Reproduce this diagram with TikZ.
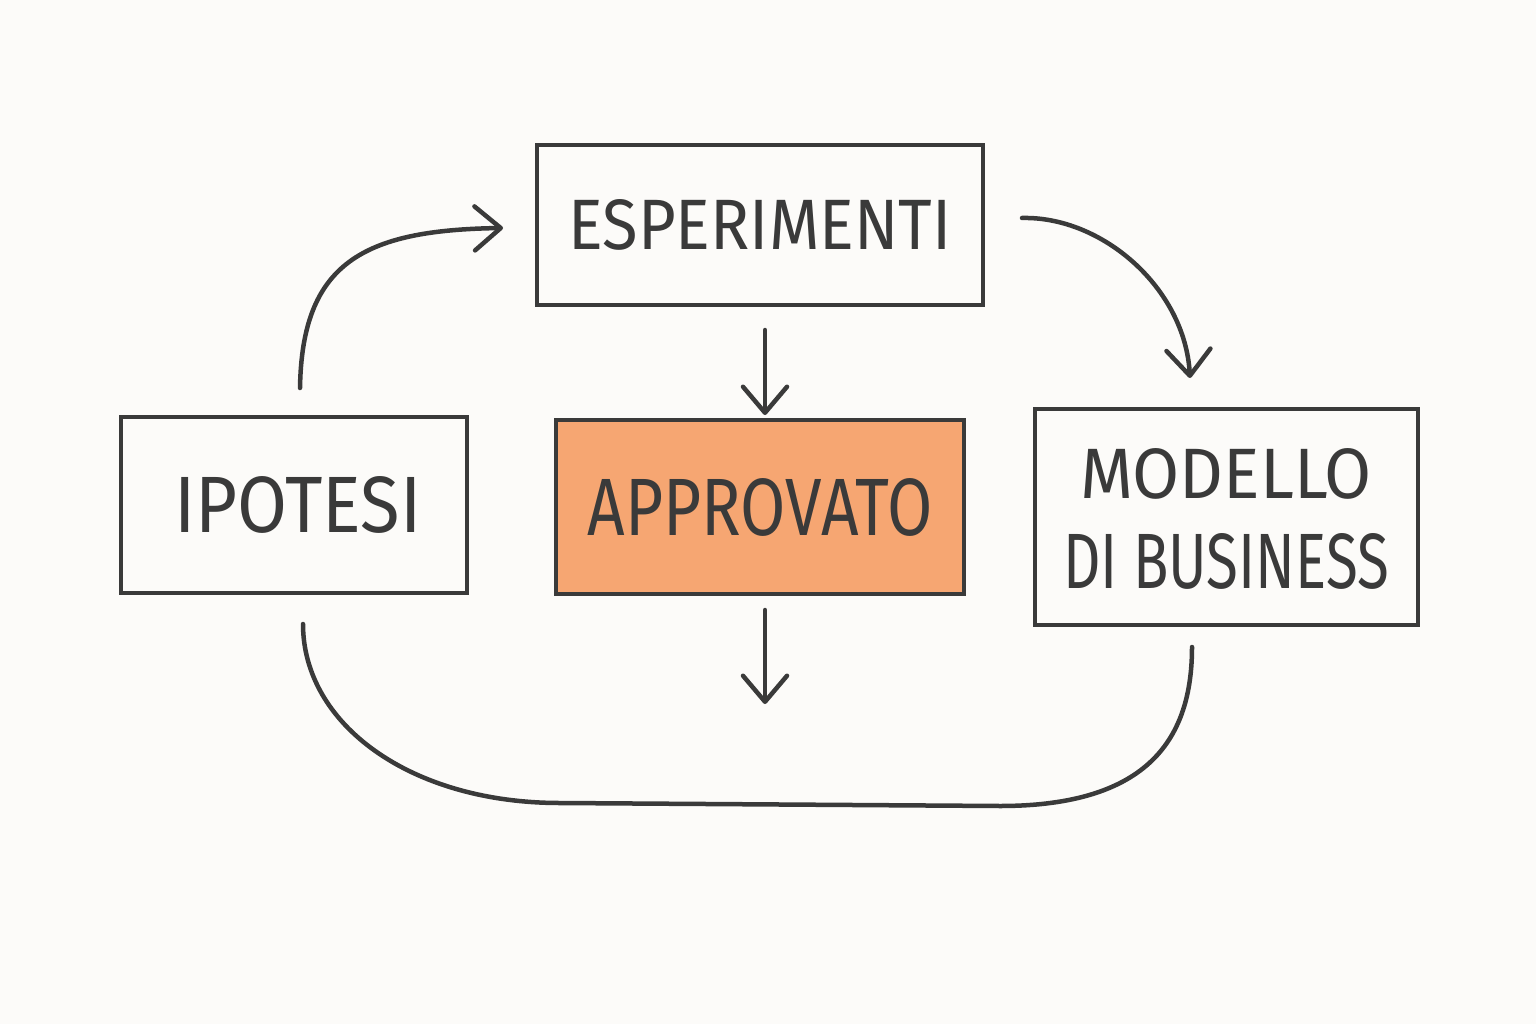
\documentclass[tikz,border=0pt]{standalone}
\usepackage{fontspec}
\setmainfont{Fira Sans}
\usetikzlibrary{arrows.meta,calc}
\definecolor{ink}{HTML}{3A3A3A}
\definecolor{paper}{HTML}{FCFBF9}
\definecolor{orangefill}{HTML}{F6A672}
\tikzset{
  box/.style={draw=ink, line width=4pt, inner sep=0pt, text=ink,
    font=\fontsize{70}{86}\selectfont, align=center},
  conn/.style={draw=ink, line width=4.5pt, line cap=round,
    -{Straight Barb[length=26pt,width=44pt,round]}},
  loopline/.style={draw=ink, line width=4.5pt, line cap=round}
}
\begin{document}
\begin{tikzpicture}[x=1pt,y=-1pt]
\fill[paper] (0,0) rectangle (1536,1024);
\useasboundingbox (0,0) rectangle (1536,1024);

\node[box, minimum width=446pt, minimum height=160pt] (esp) at (760,225)
  {\resizebox{383pt}{50pt}{ESPERIMENTI}};
\node[box, minimum width=346pt, minimum height=176pt] (ipo) at (294,505)
  {\hspace*{8pt}\resizebox{247pt}{56pt}{IPOTESI}};
\node[box, fill=orangefill, minimum width=408pt, minimum height=174pt] (app) at (760,507)
  {\resizebox{345pt}{57pt}{APPROVATO}};
\node[box, minimum width=383pt, minimum height=216pt] (mod) at (1226,517)
  {\begin{tabular}{@{}c@{}}\rule{0pt}{78pt}\resizebox{292pt}{50pt}{MODELLO}\\[4pt]\resizebox{326pt}{55pt}{DI BUSINESS}\end{tabular}};

% ipotesi -> esperimenti
\draw[conn] ($(ipo.north)+(6,-27)$) .. controls +(2,-125) and +(-140,2) .. ($(esp.west)+(-32,3)$);
% esperimenti -> modello
\draw[conn] ($(esp.east)+(37,-7)$) .. controls +(80,-2) and +(-5,-90) .. ($(mod.north)+(-36,-29)$);
% esperimenti -> approvato
\draw[conn] ($(esp.south)+(5,23)$) -- ($(app.north)+(5,-3)$);
% approvato -> down
\coordinate (out) at ($(app.south)+(5,108)$);
\draw[conn] ($(app.south)+(5,14)$) -- (out);
% bottom loop
\draw[loopline] ($(ipo.south)+(9,29)$) .. controls +(0,100) and +(-150,0) .. (560,803)
  -- (1000,806) .. controls +(150,0) and +(0,90) .. ($(mod.south)+(-34,20)$);
\end{tikzpicture}
\end{document}
